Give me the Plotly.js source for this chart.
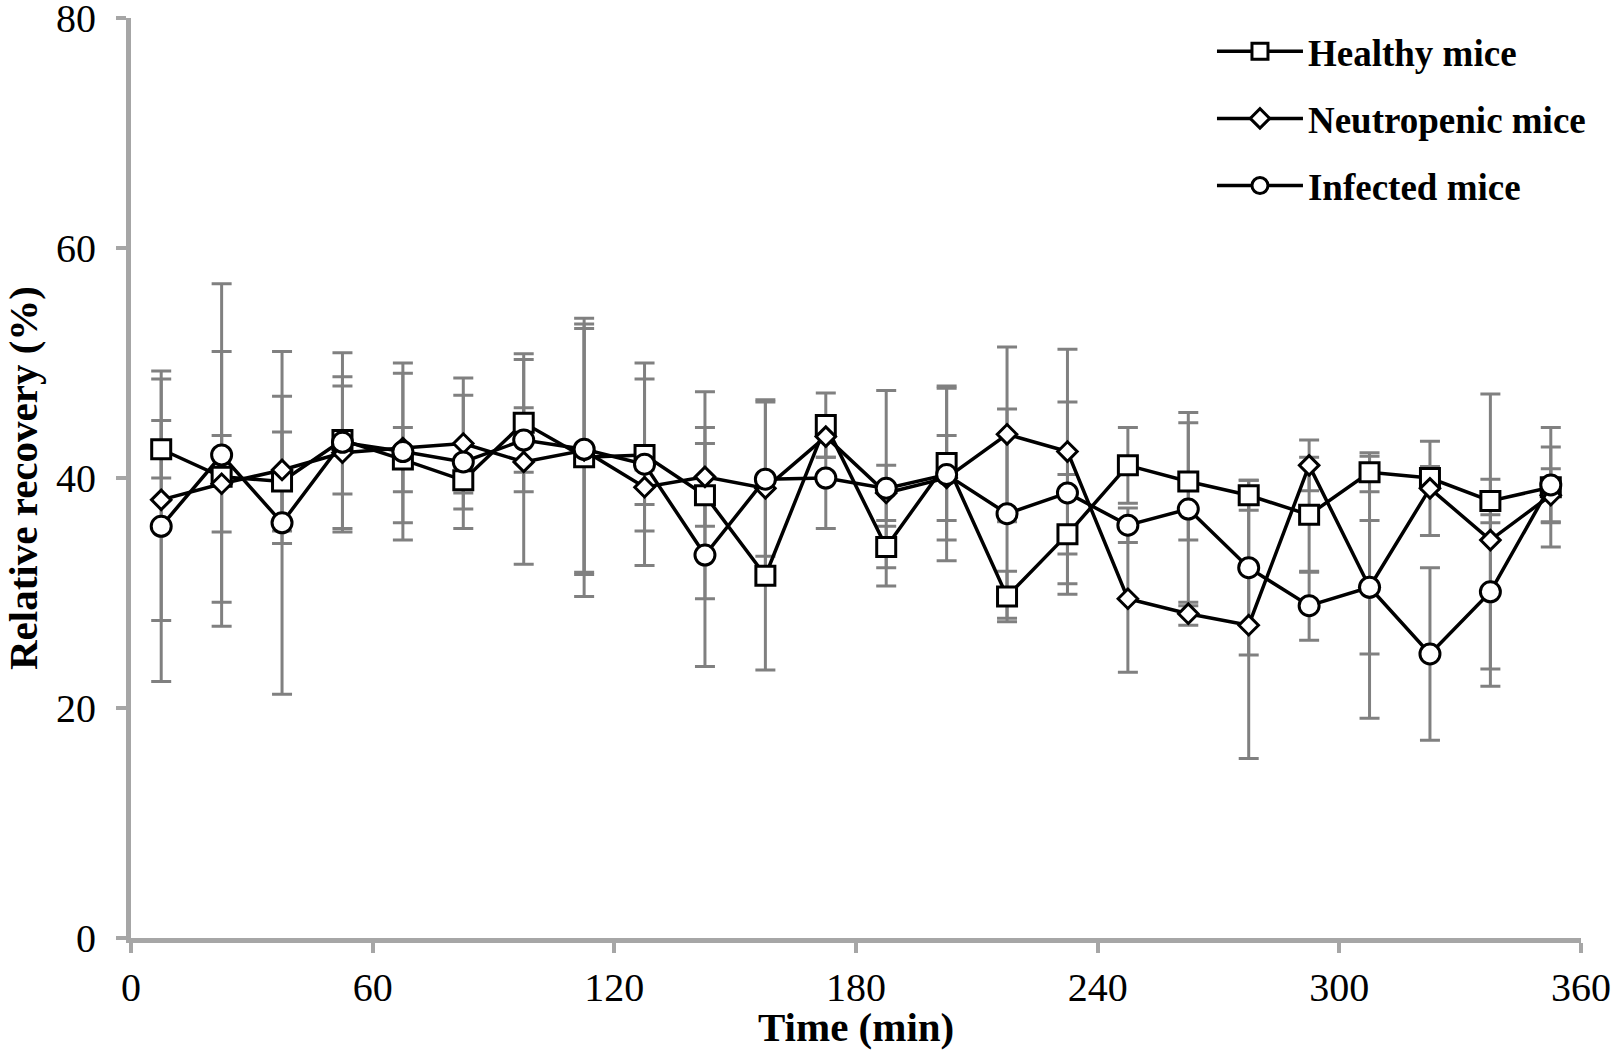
<!DOCTYPE html>
<html>
<head>
<meta charset="utf-8">
<script src="https://cdn.plot.ly/plotly-3.0.1.min.js"></script>
<style>html,body{margin:0;padding:0;background:#fff;}#chart{width:1613px;height:1054px;}</style>
</head>
<body>
<div id="chart"></div>
<script>
// Time points (min)
const times = [7.5, 22.5, 37.5, 52.5, 67.5, 82.5, 97.5, 112.5, 127.5, 142.5, 157.5, 172.5,
               187.5, 202.5, 217.5, 232.5, 247.5, 262.5, 277.5, 292.5, 307.5, 322.5, 337.5, 352.5];

// Relative recovery (%) per group
const healthy     = [42.5, 40.1, 39.7, 43.3, 41.6, 39.8, 44.8, 41.8, 42.0, 38.5, 31.5, 44.6,
                     34.0, 41.3, 29.7, 35.1, 41.1, 39.7, 38.5, 36.8, 40.5, 40.0, 38.0, 39.2];
const healthyErr  = [2.5, 10.9, 4.3, 4.7, 2.8, 1.1, 6.0, 12.1, 6.6, 9.0, 8.2, 2.8,
                     1.8, 6.7, 2.2, 5.2, 3.3, 5.1, 1.3, 5.0, 1.7, 1.0, 1.9, 5.2];

const neutropenic    = [38.1, 39.5, 40.7, 42.2, 42.6, 43.0, 41.4, 42.4, 39.2, 40.1, 39.1, 43.6,
                        38.7, 40.0, 43.8, 42.3, 29.5, 28.2, 27.2, 41.1, 30.5, 39.1, 34.6, 38.5];
const neutropenicErr = [10.5, 4.2, 6.4, 6.6, 6.5, 5.7, 8.9, 10.6, 1.5, 4.3, 7.7, 1.8,
                        2.4, 3.7, 7.6, 8.9, 6.4, 1.0, 11.6, 2.2, 5.8, 4.1, 12.7, 2.3];

const infected    = [35.8, 42.0, 36.1, 43.1, 42.3, 41.4, 43.3, 42.5, 41.2, 33.3, 39.9, 40.0,
                     39.1, 40.3, 36.9, 38.7, 35.9, 37.3, 32.2, 28.9, 30.5, 24.7, 30.1, 39.4];
const infectedErr = [13.5, 14.9, 14.9, 7.8, 7.7, 5.8, 2.8, 10.9, 8.8, 9.7, 6.7, 4.4,
                     8.5, 7.5, 9.1, 7.9, 1.5, 8.4, 7.6, 3.0, 11.4, 7.5, 6.7, 3.3];

const seriesNames = ['Healthy mice', 'Neutropenic mice', 'Infected mice'];
const xTickVals = [0, 60, 120, 180, 240, 300, 360];
const yTickVals = [0, 20, 40, 60, 80];

const series = [
  {name: seriesNames[0], y: healthy, err: healthyErr, symbol: 'square', size: 19},
  {name: seriesNames[1], y: neutropenic, err: neutropenicErr, symbol: 'diamond', size: 15},
  {name: seriesNames[2], y: infected, err: infectedErr, symbol: 'circle', size: 20}
];

const traces = [];
// error bars first (behind all lines and markers)
series.forEach(s => {
  traces.push({
    type: 'scatter', mode: 'markers', x: times, y: s.y,
    marker: {size: 2, opacity: 0},
    error_y: {type: 'data', array: s.err, visible: true, color: '#808080', thickness: 3, width: 10},
    showlegend: false, hoverinfo: 'skip'
  });
});
series.forEach((s, i) => {
  traces.push({
    type: 'scatter', mode: 'lines+markers', name: s.name, x: times, y: s.y,
    legendgroup: 'g' + i,
    line: {color: '#000000', width: 3.5},
    marker: {symbol: s.symbol, size: s.size, color: '#ffffff', line: {color: '#000000', width: 3}}
  });
});

const serif = 'Liberation Serif, Times New Roman, serif';
const layout = {
  width: 1613, height: 1054,
  margin: {l: 131, r: 32, t: 18, b: 116},
  paper_bgcolor: '#ffffff', plot_bgcolor: '#ffffff',
  font: {family: serif, color: '#000000'},
  showlegend: true,
  legend: {
    x: 0.7455, y: 0.997, xanchor: 'left', yanchor: 'top',
    font: {family: serif, size: 37, color: '#000000', weight: 'bold'},
    bgcolor: 'rgba(0,0,0,0)', traceorder: 'grouped', tracegroupgap: 16,
    itemwidth: 86
  },
  xaxis: {
    range: [0, 360], tickmode: 'array', tickvals: xTickVals, ticktext: xTickVals.map(String),
    showgrid: false, zeroline: false,
    showline: true, linecolor: '#a6a6a6', linewidth: 5,
    ticks: 'outside', ticklen: 10, tickwidth: 4, tickcolor: '#a6a6a6',
    tickfont: {family: serif, size: 40, color: '#000000'},
    ticklabelstandoff: 0, ticklabeloverflow: 'allow'
  },
  yaxis: {
    range: [0, 80], tickmode: 'array', tickvals: yTickVals, ticktext: yTickVals.map(String),
    showgrid: false, zeroline: false,
    showline: true, linecolor: '#a6a6a6', linewidth: 5,
    ticks: 'outside', ticklen: 10, tickwidth: 4, tickcolor: '#a6a6a6',
    tickfont: {family: serif, size: 40, color: '#000000'},
    ticklabelstandoff: 12, ticklabeloverflow: 'allow'
  },
  annotations: [
    {text: 'Time (min)', xref: 'paper', yref: 'paper', x: 0.5, y: 0, yshift: -89,
     xanchor: 'center', yanchor: 'middle', showarrow: false,
     font: {family: serif, size: 41, color: '#000000', weight: 'bold'}},
    {text: 'Relative recovery (%)', xref: 'paper', yref: 'paper', x: 0, y: 0.5, xshift: -108,
     xanchor: 'center', yanchor: 'middle', showarrow: false, textangle: -90,
     font: {family: serif, size: 41, color: '#000000', weight: 'bold'}}
  ]
};

Plotly.newPlot('chart', traces, layout, {displayModeBar: false, staticPlot: true});
</script>
</body>
</html>
